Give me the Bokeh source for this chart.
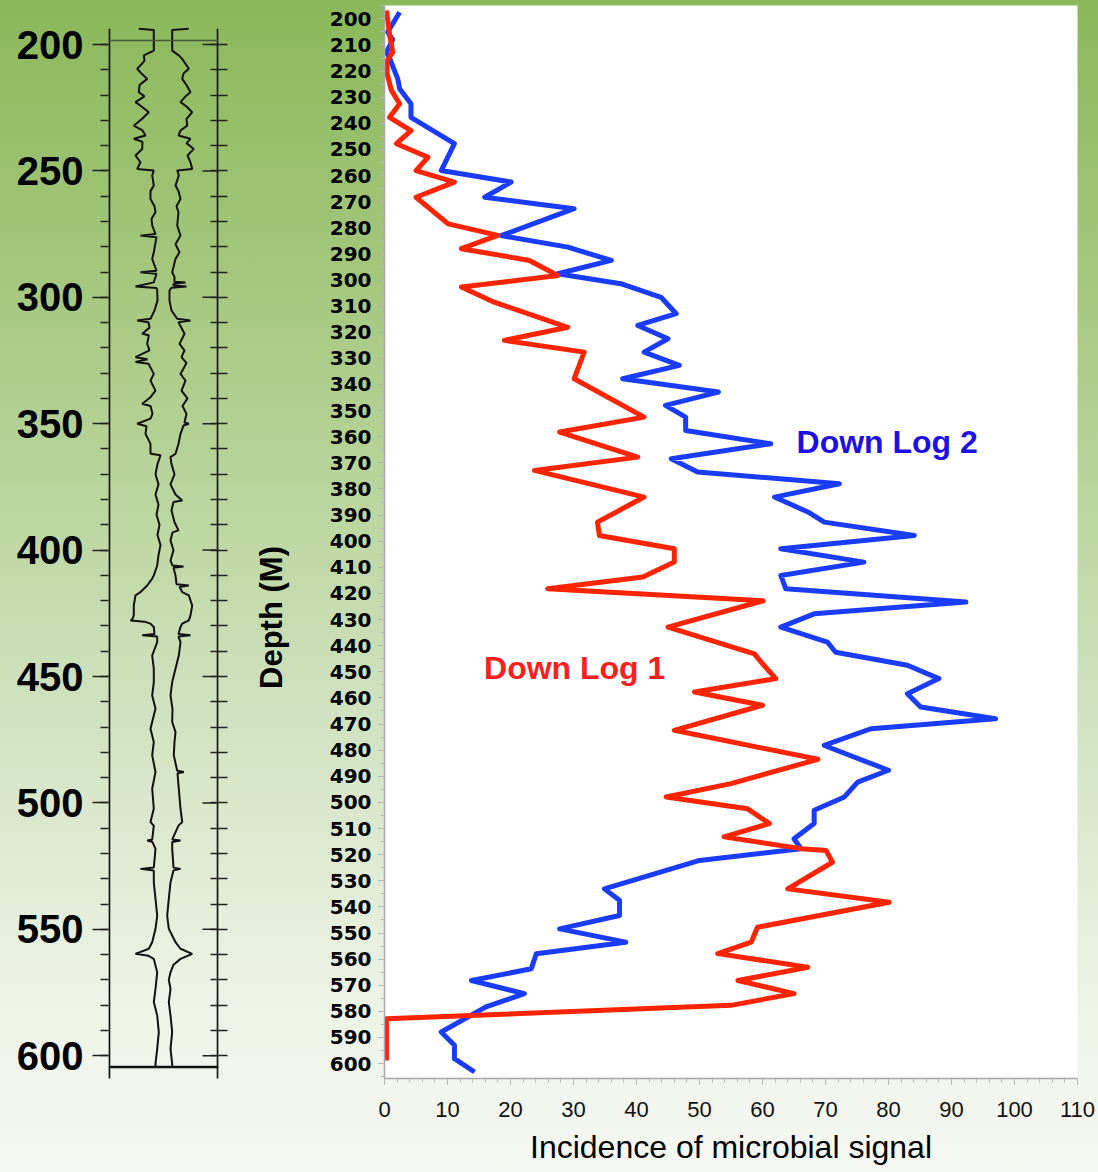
from math import pi
from bokeh.plotting import figure
from bokeh.models import Range1d, FixedTicker, LinearAxis, Span, Label
from bokeh.layouts import row
from bokeh.embed import file_html
from bokeh.resources import INLINE

# ---------------- data ----------------
# caliper-style well log (left panel): depth (m) and trace position (arbitrary units, 0-110 frame)
cal_left_depth = [193.8, 194.3, 202.4, 204.3, 206.5, 209.6, 211.5, 213.6, 216.0, 218.9, 220.5, 222.8, 224.5,
                  226.8, 229.4, 232.1, 234.0, 236.0, 237.3, 238.5, 241.3, 243.9, 246.6, 249.2, 249.8, 251.8,
                  255.8, 258.0, 261.1, 264.0, 266.3, 269.0, 271.6, 275.0, 275.6, 276.2, 282.2, 284.8, 289.5,
                  290.1, 290.7, 294.1, 295.7, 296.3, 297.3, 301.3, 305.2, 308.5, 309.2, 309.9, 312.0, 314.4,
                  315.0, 318.4, 321.0, 323.7, 324.5, 325.6, 326.3, 330.3, 333.0, 336.9, 339.5, 342.1, 343.0,
                  346.1, 348.0, 350.0, 351.0, 354.0, 358.0, 361.9, 362.5, 366.0, 370.0, 374.0, 378.0, 382.0,
                  386.0, 390.0, 394.0, 398.0, 402.0, 406.1, 410.0, 411.3, 414.0, 416.6, 417.9, 421.9, 425.8,
                  427.5, 427.8, 428.3, 429.1, 430.4, 433.2, 433.7, 434.2, 436.4, 441.7, 446.9, 452.2, 457.5,
                  462.8, 470.7, 475.9, 481.2, 487.8, 494.4, 502.3, 507.6, 509.0, 514.5, 514.9, 515.5, 518.2,
                  525.6, 526.1, 526.7, 531.4, 538.0, 544.6, 549.8, 555.1, 557.7, 559.7, 560.5, 561.7, 567.0,
                  573.6, 578.8, 584.1, 590.7, 597.3, 603.2, 604.6]
cal_left = [30.3, 45.3, 45.3, 35.3, 36.0, 28.7, 33.0, 38.7, 31.0, 30.3, 36.0, 27.0, 33.0,
            40.3, 33.7, 25.3, 34.0, 37.0, 25.3, 34.0, 33.7, 27.0, 32.0, 28.7, 45.3, 43.7,
            45.3, 42.0, 42.0, 46.0, 47.0, 43.0, 43.7, 47.0, 32.0, 48.0, 45.3, 43.7, 48.0,
            32.0, 48.0, 45.3, 27.0, 48.0, 48.7, 49.0, 46.0, 42.0, 28.7, 40.0, 41.0, 33.7,
            40.3, 38.7, 41.0, 27.0, 39.0, 27.0, 40.0, 45.3, 42.0, 47.0, 42.0, 33.7, 42.0,
            44.0, 42.0, 28.7, 38.0, 37.0, 42.0, 42.0, 52.0, 49.0, 47.0, 50.0, 47.0, 50.0,
            48.0, 51.0, 49.0, 52.0, 50.0, 48.7, 45.3, 43.7, 38.7, 32.0, 27.0, 25.3, 25.3,
            23.7, 22.0, 36.0, 42.0, 45.3, 46.0, 33.7, 48.7, 48.7, 43.7, 45.3, 45.3, 43.7,
            47.0, 42.0, 45.3, 43.7, 47.0, 43.7, 45.3, 42.0, 45.3, 43.7, 38.7, 44.0, 47.0,
            45.3, 32.0, 45.3, 45.3, 47.0, 48.7, 47.0, 43.7, 40.3, 27.0, 40.0, 45.3, 48.7,
            47.0, 45.3, 48.7, 50.3, 48.7, 47.0, 47.0]
cal_right_depth = [193.8, 194.3, 202.4, 204.3, 205.7, 209.6, 211.5, 213.6, 216.0, 218.9, 220.5, 222.8, 224.5,
                   226.8, 229.4, 232.1, 234.0, 236.0, 237.3, 239.0, 241.3, 243.9, 246.6, 249.2, 249.8, 251.8,
                   255.8, 258.0, 261.1, 264.0, 266.3, 271.6, 275.6, 279.0, 282.2, 284.8, 288.0, 290.1, 292.0,
                   293.8, 294.1, 294.6, 295.3, 295.7, 296.2, 297.3, 301.3, 305.2, 308.5, 309.2, 309.9, 314.4,
                   318.4, 321.0, 323.7, 326.0, 330.3, 333.0, 336.9, 340.0, 343.0, 346.1, 349.5, 350.0, 350.7,
                   354.0, 358.0, 361.9, 363.2, 366.0, 370.0, 374.0, 378.0, 380.4, 381.0, 384.3, 389.0, 392.2,
                   393.0, 396.2, 400.1, 404.1, 406.1, 406.5, 407.0, 410.0, 413.5, 414.0, 414.6, 416.6, 417.9,
                   421.9, 425.8, 427.8, 429.1, 430.4, 433.2, 433.7, 434.2, 436.4, 441.7, 446.9, 452.2, 457.5,
                   462.8, 468.0, 472.0, 475.9, 481.2, 487.3, 487.8, 488.3, 494.4, 502.3, 507.6, 509.0, 514.5,
                   514.9, 515.5, 518.2, 525.6, 526.1, 526.7, 531.4, 538.0, 544.6, 549.8, 555.1, 557.7, 559.7,
                   561.7, 564.0, 567.0, 570.0, 573.6, 578.8, 584.1, 590.7, 597.3, 603.2, 604.6]
cal_right = [80.3, 63.7, 63.7, 70.3, 73.7, 80.3, 75.0, 73.7, 78.0, 82.0, 77.0, 72.0, 78.0,
             83.7, 78.0, 78.7, 72.0, 70.0, 82.0, 78.0, 85.3, 79.0, 82.0, 83.7, 68.7, 70.3,
             67.0, 70.0, 72.0, 68.0, 70.0, 68.7, 72.0, 67.0, 71.0, 67.0, 65.0, 63.7, 66.0,
             66.0, 77.0, 65.0, 65.0, 78.0, 63.0, 61.0, 61.0, 63.0, 68.7, 82.0, 70.0, 76.0,
             71.0, 76.0, 73.0, 78.0, 72.0, 77.0, 73.0, 79.0, 74.0, 78.0, 76.0, 80.3, 75.0,
             72.0, 70.0, 67.0, 62.0, 63.0, 66.0, 62.0, 67.0, 73.7, 65.0, 63.0, 66.0, 70.0,
             64.0, 62.0, 65.0, 62.0, 64.0, 75.0, 65.0, 67.0, 68.0, 80.3, 71.0, 73.7, 80.3,
             83.7, 82.0, 80.3, 73.7, 72.0, 70.0, 82.0, 70.0, 72.0, 70.3, 67.0, 63.7, 62.0,
             64.0, 63.7, 67.0, 66.0, 65.3, 68.7, 75.3, 69.0, 70.3, 72.0, 73.7, 70.0, 63.7,
             72.0, 63.7, 63.7, 65.0, 72.0, 65.0, 62.0, 60.3, 58.7, 60.3, 67.0, 72.0, 83.7,
             72.0, 65.0, 62.0, 60.3, 62.0, 60.3, 62.0, 63.7, 62.0, 63.7, 63.7]
log_frame_top = 198.4
log_frame_bottom = 604.5
log_side_top = 193.8
log_side_bottom = 609.8
log_major_ticks = list(range(200, 601, 50))
log_minor_ticks = list(range(200, 601, 10))

# microbial signal (right panel)
blue_depth = [197.5, 205.1, 208.0, 212.8, 215.0, 223.0, 226.8, 232.5, 237.7, 247.8, 258.1, 262.5, 268.3,
              272.7, 283.0, 287.4, 292.5, 297.6, 301.4, 306.6, 312.9, 317.4, 322.5, 327.6, 332.7, 337.8,
              342.9, 348.0, 352.5, 357.6, 362.7, 368.4, 373.5, 378.0, 383.1, 388.8, 392.7, 397.8, 402.9,
              408.0, 413.1, 418.2, 423.3, 427.8, 432.9, 438.6, 442.5, 447.5, 452.6, 458.4, 463.5, 468.0,
              471.8, 478.2, 487.7, 492.2, 497.9, 503.0, 508.1, 513.9, 517.7, 522.2, 533.1, 537.5, 543.3,
              548.4, 553.5, 557.9, 563.7, 568.2, 573.2, 578.3, 587.9, 593.0, 598.1, 603.2]
blue_signal = [2.4, 0.5, 1.3, 0.3, 0.8, 2.1, 2.4, 4.2, 4.2, 11.1, 9.0, 20.1, 15.9,
               30.1, 18.5, 29.1, 36.0, 27.5, 37.5, 43.9, 46.3, 40.2, 45.0, 41.2, 46.8, 37.8,
               53.0, 44.6, 47.8, 47.8, 61.3, 45.5, 49.7, 72.2, 61.9, 67.2, 69.8, 84.1, 62.9,
               76.1, 62.9, 63.7, 92.3, 68.2, 62.9, 70.3, 71.6, 83.0, 88.0, 83.0, 85.1, 97.0,
               77.2, 69.8, 80.0, 75.1, 73.0, 68.2, 68.2, 65.0, 66.1, 50.0, 34.9, 37.3, 37.3,
               27.8, 38.3, 24.1, 23.3, 13.8, 22.2, 16.1, 9.0, 11.1, 11.1, 14.3]
red_depth = [196.8, 205.7, 212.8, 216.0, 221.0, 227.4, 232.5, 237.7, 242.8, 247.8, 253.0, 258.1, 262.5,
             268.3, 278.5, 282.9, 288.0, 292.5, 298.3, 302.7, 308.5, 318.1, 323.1, 327.6, 337.8, 352.5,
             358.2, 367.8, 372.9, 383.1, 392.7, 397.8, 402.9, 408.0, 413.7, 418.2, 422.8, 432.9, 443.1,
             446.9, 452.6, 457.7, 462.8, 472.4, 483.5, 492.8, 497.9, 502.4, 508.1, 513.2, 517.7, 518.4,
             522.9, 533.1, 538.2, 547.8, 553.5, 557.9, 563.1, 568.2, 573.2, 577.7, 582.8, 598.8]
red_signal = [0.3, 0.8, 1.3, 0.4, 0.4, 1.1, 2.4, 0.8, 4.2, 1.9, 6.9, 5.0, 11.1,
              5.0, 10.1, 18.0, 12.2, 23.0, 27.5, 12.2, 17.4, 29.1, 19.0, 31.7, 30.1, 41.2,
              27.8, 40.2, 23.8, 41.2, 33.8, 34.1, 46.0, 46.0, 41.0, 25.9, 60.1, 45.0, 58.7,
              60.0, 62.1, 49.2, 60.0, 46.0, 68.8, 55.0, 44.7, 57.6, 61.1, 53.9, 66.1, 70.1,
              71.1, 64.0, 80.1, 59.2, 58.2, 52.9, 67.2, 56.1, 65.0, 55.0, 0.3, 0.3]
depth_ticks = list(range(200, 601, 10))
depth_minor_ticks = list(range(195, 606, 5))
signal_ticks = list(range(0, 111, 10))
signal_minor_ticks = list(range(0, 111, 2))

label_log1 = "Down Log 1"
label_log2 = "Down Log 2"
x_title = "Incidence of microbial signal"
y_title = "Depth (M)"

BLUE = "#1a3cff"
RED = "#ff2400"
TOP_B = 5
BOT_B = 94
SIG_RANGE = (605.7, 194.9)

# ---------------- left panel: caliper log ----------------
p1 = figure(width=235, height=1172, x_range=Range1d(0, 110), y_range=Range1d(609.02, 184.57),
            output_backend="svg", toolbar_location=None, x_axis_location=None,
            min_border_left=108, min_border_right=17, min_border_top=TOP_B, min_border_bottom=BOT_B)
p1.grid.visible = False
p1.background_fill_alpha = 0
p1.border_fill_alpha = 0
p1.outline_line_color = None

ya = p1.yaxis[0]
ya.ticker = FixedTicker(ticks=log_major_ticks, minor_ticks=log_minor_ticks)
ya.axis_line_color = None
ya.major_tick_line_color = "#222222"
ya.minor_tick_line_color = "#222222"
ya.major_tick_line_width = 1.5
ya.minor_tick_line_width = 1.5
ya.major_tick_in = 0
ya.major_tick_out = 16
ya.minor_tick_in = 0
ya.minor_tick_out = 8
ya.major_label_standoff = 9
ya.major_label_text_font = "Liberation Sans"
ya.major_label_text_font_style = "bold"
ya.major_label_text_font_size = "40px"
ya.major_label_text_color = "#000000"

ra = LinearAxis(ticker=FixedTicker(ticks=[], minor_ticks=log_minor_ticks))
ra.axis_line_color = None
ra.minor_tick_line_color = "#222222"
ra.minor_tick_line_width = 1.5
ra.minor_tick_in = 8
ra.minor_tick_out = 9
ra.major_label_standoff = 0
p1.add_layout(ra, "right")

# frame sides, top/bottom lines, and longer inward major ticks on the right side
p1.segment(x0=[0.8, 109.2], y0=[log_side_top] * 2, x1=[0.8, 109.2], y1=[log_side_bottom] * 2,
           line_color="#111111", line_width=2)
p1.segment(x0=[94] * len(log_major_ticks), y0=log_major_ticks,
           x1=[110] * len(log_major_ticks), y1=log_major_ticks,
           line_color="#222222", line_width=1.5)
p1.add_layout(Span(location=log_frame_top, dimension="width", line_color="#4a5640", line_width=1.5))
p1.add_layout(Span(location=log_frame_bottom, dimension="width", line_color="#111111", line_width=2.5))

p1.line(cal_left, cal_left_depth, line_color="#111111", line_width=2)
p1.line(cal_right, cal_right_depth, line_color="#111111", line_width=2)

# ---------------- middle strip: depth title ----------------
p3 = figure(width=60, height=1172, x_range=Range1d(0, 60), y_range=Range1d(*SIG_RANGE),
            output_backend="svg", toolbar_location=None, x_axis_location=None, y_axis_location=None,
            min_border_left=0, min_border_right=0, min_border_top=TOP_B, min_border_bottom=BOT_B)
p3.grid.visible = False
p3.background_fill_alpha = 0
p3.border_fill_alpha = 0
p3.outline_line_color = None
p3.add_layout(Label(x=36, y=429.2, text=y_title, angle=pi / 2, text_align="center",
                    text_baseline="middle", text_font="Liberation Sans", text_font_style="bold",
                    text_font_size="31px", text_color="#000000"))

# ---------------- right panel: microbial signal ----------------
p2 = figure(width=803, height=1172, x_range=Range1d(0, 110), y_range=Range1d(*SIG_RANGE),
            output_backend="svg", toolbar_location=None,
            min_border_left=89, min_border_right=21, min_border_top=TOP_B, min_border_bottom=BOT_B)
p2.grid.visible = False
p2.background_fill_color = "#ffffff"
p2.border_fill_alpha = 0
p2.outline_line_color = None

xa = p2.xaxis[0]
xa.ticker = FixedTicker(ticks=signal_ticks, minor_ticks=signal_minor_ticks)
xa.axis_line_color = "#a8a8a8"
xa.axis_line_width = 1.5
xa.major_tick_line_color = "#a8a8a8"
xa.minor_tick_line_color = "#b8b8b8"
xa.major_tick_in = 0
xa.major_tick_out = 6
xa.minor_tick_in = 0
xa.minor_tick_out = 4
xa.major_label_standoff = 17
xa.major_label_text_font = "Liberation Sans"
xa.major_label_text_font_size = "22px"
xa.major_label_text_color = "#111111"
xa.axis_label = x_title
xa.axis_label_standoff = 9
xa.axis_label_text_font = "Liberation Sans"
xa.axis_label_text_font_style = "normal"
xa.axis_label_text_font_size = "32px"
xa.axis_label_text_color = "#000000"

yb = p2.yaxis[0]
yb.ticker = FixedTicker(ticks=depth_ticks, minor_ticks=depth_minor_ticks)
yb.axis_line_color = "#a8a8a8"
yb.axis_line_width = 1.5
yb.major_tick_line_color = "#a8a8a8"
yb.minor_tick_line_color = "#b8b8b8"
yb.major_tick_in = 0
yb.major_tick_out = 6
yb.minor_tick_in = 0
yb.minor_tick_out = 4
yb.major_label_standoff = 7
yb.major_label_text_font = "DejaVu Sans"
yb.major_label_text_font_style = "bold"
yb.major_label_text_font_size = "20px"
yb.major_label_text_color = "#000000"

p2.line(blue_signal, blue_depth, line_color=BLUE, line_width=5, line_join="round")
p2.line(red_signal, red_depth, line_color=RED, line_width=5, line_join="round")

p2.add_layout(Label(x=65.4, y=362.2, text=label_log2, text_align="left", text_baseline="alphabetic",
                    text_font="Liberation Sans", text_font_style="bold", text_font_size="32px",
                    text_color="#1c10e6"))
p2.add_layout(Label(x=15.8, y=448.7, text=label_log1, text_align="left", text_baseline="alphabetic",
                    text_font="Liberation Sans", text_font_style="bold", text_font_size="32px",
                    text_color="#ff1e1e"))

layout = row(p1, p3, p2, styles={
    "background": "linear-gradient(to bottom, #8bb85a 0%, #a6c87f 25%, #bdd7a2 45%, "
                  "#cde0bb 58%, #dfead2 73%, #edf3e6 85%, #f6f8f3 100%)"})

open("out.html", "w").write(file_html(layout, INLINE))
